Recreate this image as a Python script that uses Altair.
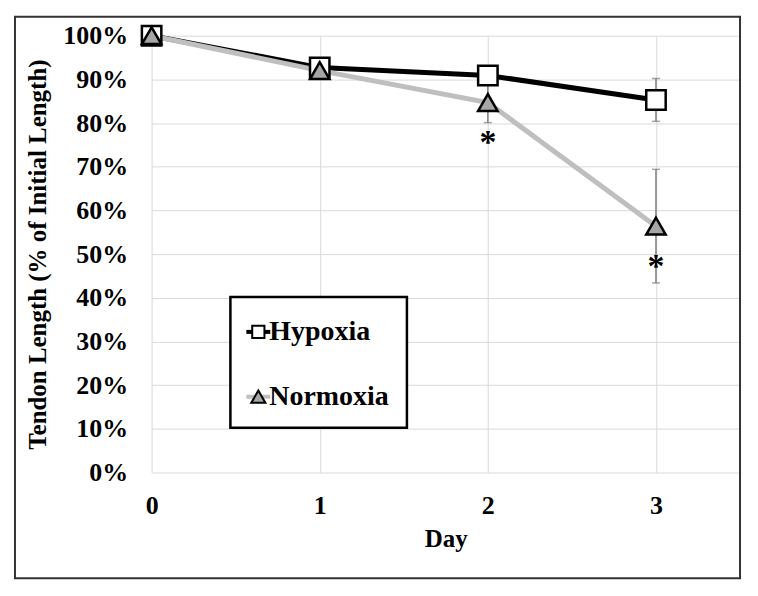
import altair as alt
import pandas as pd

# ---- data ----
days = [0, 1, 2, 3]
groups = ["Hypoxia", "Normoxia"]
hypoxia = [1.00, 0.927, 0.909, 0.853]
hypoxia_sd = [0.0, 0.010, 0.010, 0.049]
normoxia = [1.00, 0.920, 0.847, 0.564]
normoxia_sd = [0.0, 0.010, 0.046, 0.130]
star_days = [2, 3]
star_values = [0.765, 0.482]
y_ticks = [0, 0.1, 0.2, 0.3, 0.4, 0.5, 0.6, 0.7, 0.8, 0.9, 1.0]
x_ticks = [0, 1, 2, 3]

line_colors = ["black", "#bfbfbf"]
fill_colors = ["white", "#a6a6a6"]
shapes = ["square", "triangle-up"]

rows = []
for g, vals, sds in [(groups[0], hypoxia, hypoxia_sd), (groups[1], normoxia, normoxia_sd)]:
    for d, v, s in zip(days, vals, sds):
        rows.append({"Day": d, "Group": g, "Value": v, "Low": v - s, "High": v + s})
df = pd.DataFrame(rows)
stars = pd.DataFrame({"Day": star_days, "Value": star_values, "Label": ["*"] * len(star_days)})

FONT = "Liberation Serif"
YTITLE = "Tendon Length (% of Initial Length)"

xscale = alt.Scale(domain=[0, 3.5], nice=False, zero=False)
yscale = alt.Scale(domain=[0, 1], nice=False)
xaxis = alt.Axis(values=x_ticks, format="d", labelPadding=20, titlePadding=8, labelFlush=False)
yaxis = alt.Axis(values=y_ticks, format=".0%", labelPadding=24, titlePadding=12)


def X(field="Day:Q"):
    return alt.X(field, scale=xscale, axis=xaxis, title="Day")


def Y(field):
    return alt.Y(field, scale=yscale, axis=yaxis, title=YTITLE)


base = alt.Chart(df)

err_rule = base.mark_rule(color="#7f7f7f", strokeWidth=1.5).encode(
    x=X(), y=Y("Low:Q"), y2="High:Q"
)
err_caps = base.transform_fold(["Low", "High"], as_=["end", "ev"]).mark_tick(
    orient="horizontal", size=8, thickness=1.5, color="#7f7f7f"
).encode(x=X(), y=Y("ev:Q"))

lines = base.mark_line(strokeWidth=5).encode(
    x=X(),
    y=Y("Value:Q"),
    stroke=alt.Stroke("Group:N", scale=alt.Scale(domain=groups, range=line_colors), legend=None),
    order="Day:Q",
)

points = base.mark_point(filled=True, stroke="black", strokeWidth=2.5, size=380, opacity=1).encode(
    x=X(),
    y=Y("Value:Q"),
    fill=alt.Fill("Group:N", scale=alt.Scale(domain=groups, range=fill_colors), legend=None),
    shape=alt.Shape("Group:N", scale=alt.Scale(domain=groups, range=shapes), legend=None),
)

star_text = alt.Chart(stars).mark_text(
    font=FONT, fontWeight="bold", fontSize=34, color="black", baseline="middle", dy=5
).encode(x=X(), y=Y("Value:Q"), text="Label:N")

one = pd.DataFrame({"k": [0]})

frame = alt.Chart(one).mark_rect(
    fill="transparent", stroke="#333333", strokeWidth=2, clip=False
).encode(x=alt.value(-137), x2=alt.value(590), y=alt.value(-19), y2=alt.value(544))

# ---- hand-drawn legend box (the reference legend is a framed box inside the plot) ----
legend_layers = [
    alt.Chart(one).mark_rect(fill="white", stroke="black", strokeWidth=2.5).encode(
        x=alt.value(79), x2=alt.value(256), y=alt.value(262), y2=alt.value(393)
    )
]
legend_rows_y = [297, 362]
for i, g in enumerate(groups):
    yy = legend_rows_y[i]
    legend_layers.append(
        alt.Chart(one).mark_rule(color=line_colors[i], strokeWidth=4).encode(
            x=alt.value(95), x2=alt.value(119), y=alt.value(yy)
        )
    )
    legend_layers.append(
        alt.Chart(one).mark_point(
            filled=True, shape=shapes[i], fill=fill_colors[i], stroke="black",
            strokeWidth=2, size=[150, 200][i], opacity=1
        ).encode(x=alt.value(107), y=alt.value(yy))
    )
    legend_layers.append(
        alt.Chart(one).mark_text(
            text=g, font=FONT, fontWeight="bold", fontSize=28, color="black",
            align="left", baseline="middle"
        ).encode(x=alt.value(118), y=alt.value(yy))
    )

chart = alt.layer(err_rule, err_caps, lines, points, star_text, frame, *legend_layers).properties(
    width=590, height=438,
    autosize=alt.AutoSizeParams(type="none"),
    padding={"left": 144, "top": 27, "right": 10, "bottom": 110},
).configure_view(stroke=None).configure_axis(
    grid=True, gridColor="#d9d9d9", gridWidth=1, domain=False, ticks=False,
    labelFont=FONT, labelFontWeight="bold", labelFontSize=26, labelColor="black",
    titleFont=FONT, titleFontWeight="bold", titleFontSize=25, titleColor="black",
)

chart.save("out.html", embed_options={"renderer": "svg", "actions": False})
